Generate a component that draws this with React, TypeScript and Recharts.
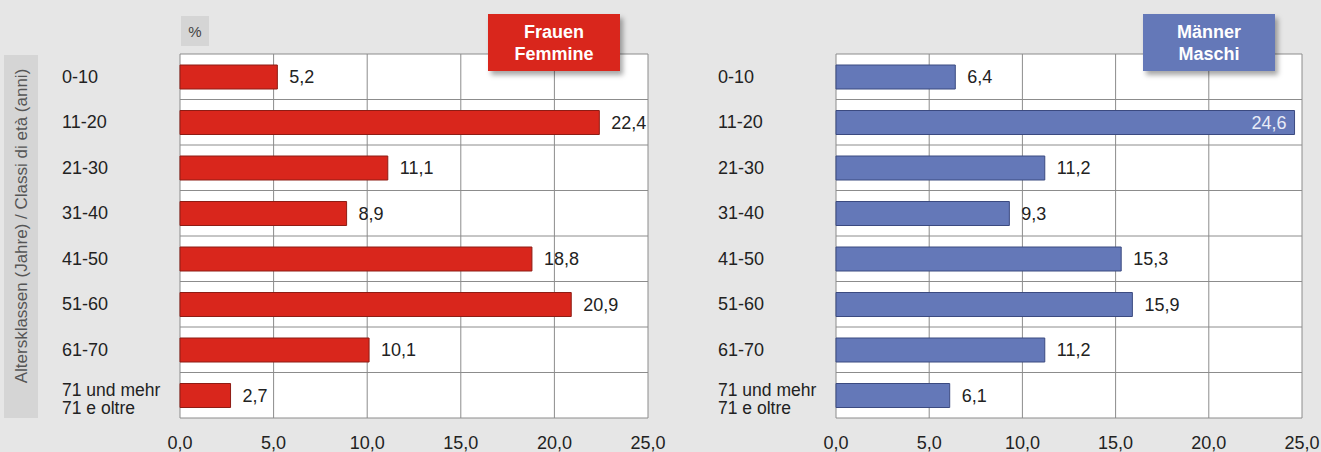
import { BarChart, Bar, XAxis, YAxis, CartesianGrid, LabelList } from 'recharts';

const ageGroups = ['0-10', '11-20', '21-30', '31-40', '41-50', '51-60', '61-70', '71 und mehr\n71 e oltre'];
const womenPct = [5.2, 22.4, 11.1, 8.9, 18.8, 20.9, 10.1, 2.7];
const menPct = [6.4, 24.6, 11.2, 9.3, 15.3, 15.9, 11.2, 6.1];
const xTicks = [0, 5, 10, 15, 20, 25];

const FONT = 'Arial, "Liberation Sans", sans-serif';
const fmt = (v: number) => v.toFixed(1).replace('.', ',');

const womenData = ageGroups.map((age, i) => ({ age, value: womenPct[i] }));
const menData = ageGroups.map((age, i) => ({ age, value: menPct[i] }));

const AgeTick = (props: any) => {
  const { x, y, payload } = props;
  const lines = String(payload.value).split('\n');
  const x0 = x - 118;
  if (lines.length === 1) {
    return (
      <text x={x0} y={y} dy={6} fontSize={18} fill="#222" fontFamily={FONT}>
        {lines[0]}
      </text>
    );
  }
  return (
    <text x={x0} y={y} fontSize={17.5} fill="#222" fontFamily={FONT}>
      <tspan x={x0} dy={1}>{lines[0]}</tspan>
      <tspan x={x0} dy={18}>{lines[1]}</tspan>
    </text>
  );
};

const ValueTick = (props: any) => {
  const { x, y, payload } = props;
  return (
    <text x={x} y={y + 23} textAnchor="middle" fontSize={18} fill="#222" fontFamily={FONT}>
      {fmt(payload.value)}
    </text>
  );
};

const ValueLabel = (props: any) => {
  const { x, y, width, height, value } = props;
  const inside = value >= 24;
  return (
    <text
      x={inside ? x + width - 8 : x + width + 12}
      y={y + height / 2 + 6}
      textAnchor={inside ? 'end' : 'start'}
      fontSize={18}
      fill={inside ? '#e8ecf7' : '#222'}
      fontFamily={FONT}
    >
      {fmt(value)}
    </text>
  );
};

const bandLines = ({ offset }: any) => {
  const step = offset.height / ageGroups.length;
  return ageGroups.map((_, i) => offset.top + i * step).concat(offset.top + offset.height);
};

type PanelProps = {
  data: { age: string; value: number }[];
  fill: string;
  stroke: string;
  width: number;
  left: number;
  right: number;
};

const Panel = ({ data, fill, stroke, width, left, right }: PanelProps) => (
  <BarChart
    width={width}
    height={452}
    data={data}
    layout="vertical"
    margin={{ top: 54, right, bottom: 0, left }}
  >
    <CartesianGrid
      fill="#fff"
      stroke="#8c8c8c"
      horizontalCoordinatesGenerator={bandLines}
    />
    <XAxis
      type="number"
      domain={[0, 25]}
      ticks={xTicks}
      height={34}
      axisLine={false}
      tickLine={false}
      tick={<ValueTick />}
      interval={0}
    />
    <YAxis
      type="category"
      dataKey="age"
      width={118}
      axisLine={false}
      tickLine={false}
      tickSize={0}
      tickMargin={0}
      tick={<AgeTick />}
      interval={0}
    />
    <Bar dataKey="value" fill={fill} stroke={stroke} strokeWidth={1} barSize={24} isAnimationActive={false}>
      <LabelList dataKey="value" content={<ValueLabel />} />
    </Bar>
  </BarChart>
);

const legendBox = (bg: string, leftPx: number): React.CSSProperties => ({
  position: 'absolute',
  left: leftPx,
  top: 14,
  width: 132,
  height: 57,
  background: bg,
  color: '#fff',
  fontFamily: FONT,
  fontWeight: 'bold',
  fontSize: 18,
  lineHeight: '22px',
  textAlign: 'center',
  display: 'flex',
  flexDirection: 'column',
  justifyContent: 'center',
  boxShadow: '3px 4px 5px rgba(0,0,0,0.35)',
});

export default function App() {
  return (
    <div
      style={{
        position: 'absolute',
        left: 0,
        top: 0,
        width: 1321,
        height: 452,
        background: '#e6e6e6',
        overflow: 'hidden',
        fontFamily: FONT,
      }}
    >
      <div style={{ position: 'absolute', left: 0, top: 0 }}>
        <Panel data={womenData} fill="#d9261c" stroke="#8e1c14" width={680} left={62} right={32} />
      </div>
      <div style={{ position: 'absolute', left: 680, top: 0 }}>
        <Panel data={menData} fill="#6478b8" stroke="#3b4a80" width={641} left={38} right={19} />
      </div>

      <div
        style={{
          position: 'absolute',
          left: 4,
          top: 55,
          width: 34,
          height: 363,
          background: '#d5d5d5',
        }}
      />
      <div
        style={{
          position: 'absolute',
          left: 22,
          top: 226,
          transform: 'translate(-50%, -50%) rotate(-90deg)',
          whiteSpace: 'nowrap',
          fontSize: 17,
          color: '#555',
        }}
      >
        Altersklassen (Jahre) / Classi di età (anni)
      </div>

      <div
        style={{
          position: 'absolute',
          left: 181,
          top: 16,
          width: 28,
          height: 30,
          background: '#d5d5d5',
          fontSize: 15,
          color: '#444',
          display: 'flex',
          alignItems: 'center',
          justifyContent: 'center',
        }}
      >
        %
      </div>

      <div style={legendBox('#d9261c', 488)}>
        <div>Frauen</div>
        <div>Femmine</div>
      </div>
      <div style={legendBox('#6478b8', 1143)}>
        <div>Männer</div>
        <div>Maschi</div>
      </div>
    </div>
  );
}
